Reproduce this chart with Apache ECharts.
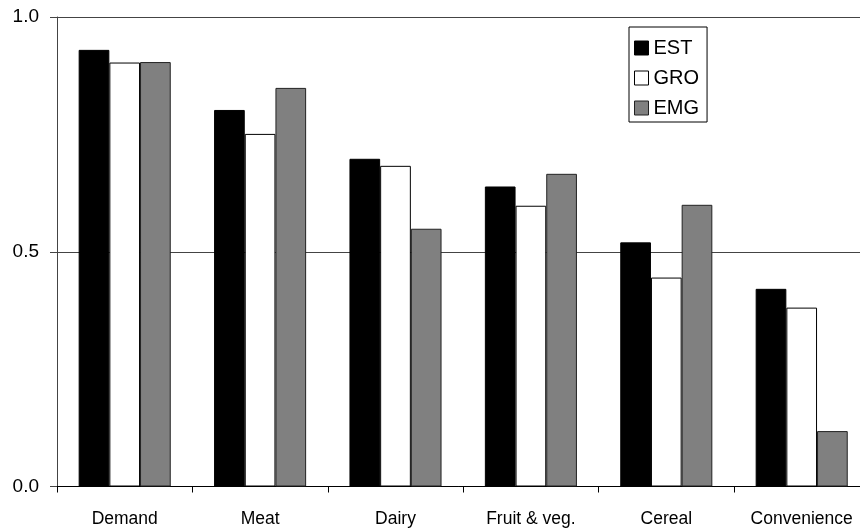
<!DOCTYPE html>
<html>
<head>
<meta charset="utf-8">
<script src="https://cdn.jsdelivr.net/npm/echarts@6/dist/echarts.min.js"></script>
<style>
  html, body { margin: 0; padding: 0; background: #fff; }
  #chart { width: 860px; height: 529px; }
</style>
</head>
<body>
<div id="chart"></div>
<script>
// Product categories along the x axis
const categories = ['Demand', 'Meat', 'Dairy', 'Fruit & veg.', 'Cereal', 'Convenience'];

// Shares per group
const est = [0.930, 0.802, 0.698, 0.639, 0.520, 0.421];
const gro = [0.903, 0.751, 0.683, 0.598, 0.445, 0.381];
const emg = [0.904, 0.849, 0.549, 0.666, 0.600, 0.118];

// Value axis ticks
const yTicks = [0.0, 0.5, 1.0];

const font = "'Liberation Sans', Arial, sans-serif";
const lineCol = '#444';

const chart = echarts.init(document.getElementById('chart'), null, { renderer: 'canvas' });

const seriesDefs = [
  { name: 'EST', data: est, color: '#000000', border: '#000000' },
  { name: 'GRO', data: gro, color: '#ffffff', border: '#000000' },
  { name: 'EMG', data: emg, color: '#808080', border: '#222222' }
];

chart.setOption({
  animation: false,
  backgroundColor: '#ffffff',
  // plot area runs slightly past the right edge of the canvas
  grid: {
    left: 57, top: 17, right: -9.4, bottom: 42.5,
    containLabel: false,
    outerBoundsMode: 'none'
  },
  legend: {
    orient: 'vertical',
    left: 629,
    top: 27,
    padding: [11, 8, 4, 5],
    itemGap: 10,
    itemWidth: 14,
    itemHeight: 14,
    borderColor: '#000',
    borderWidth: 1,
    borderRadius: 0,
    textStyle: { fontFamily: font, fontSize: 20, color: '#000', lineHeight: 20 },
    data: seriesDefs.map(s => ({
      name: s.name,
      icon: 'rect',
      itemStyle: { color: s.color, borderColor: s.border, borderWidth: 1 }
    }))
  },
  xAxis: {
    type: 'category',
    data: categories,
    boundaryGap: true,
    axisLine: { show: true, lineStyle: { color: '#000', width: 1 } },
    axisTick: { show: true, length: 6, alignWithLabel: false, lineStyle: { color: '#000' } },
    axisLabel: { fontFamily: font, fontSize: 17.5, color: '#000', margin: 24, interval: 0 },
    splitLine: { show: false }
  },
  yAxis: {
    type: 'value',
    min: yTicks[0],
    max: yTicks[yTicks.length - 1],
    interval: yTicks[1] - yTicks[0],
    axisLine: { show: true, lineStyle: { color: lineCol, width: 1 } },
    axisTick: { show: true, inside: false, length: 7, lineStyle: { color: lineCol } },
    axisLabel: {
      fontFamily: font, fontSize: 19, color: '#000', margin: 18,
      formatter: v => v.toFixed(1)
    },
    splitLine: { show: true, lineStyle: { color: lineCol, width: 1 } }
  },
  series: seriesDefs.map(s => ({
    name: s.name,
    type: 'bar',
    data: s.data,
    barGap: '0%',
    barCategoryGap: '32%',
    itemStyle: { color: s.color, borderColor: s.border, borderWidth: 1 },
    emphasis: { disabled: true }
  }))
});
</script>
</body>
</html>
